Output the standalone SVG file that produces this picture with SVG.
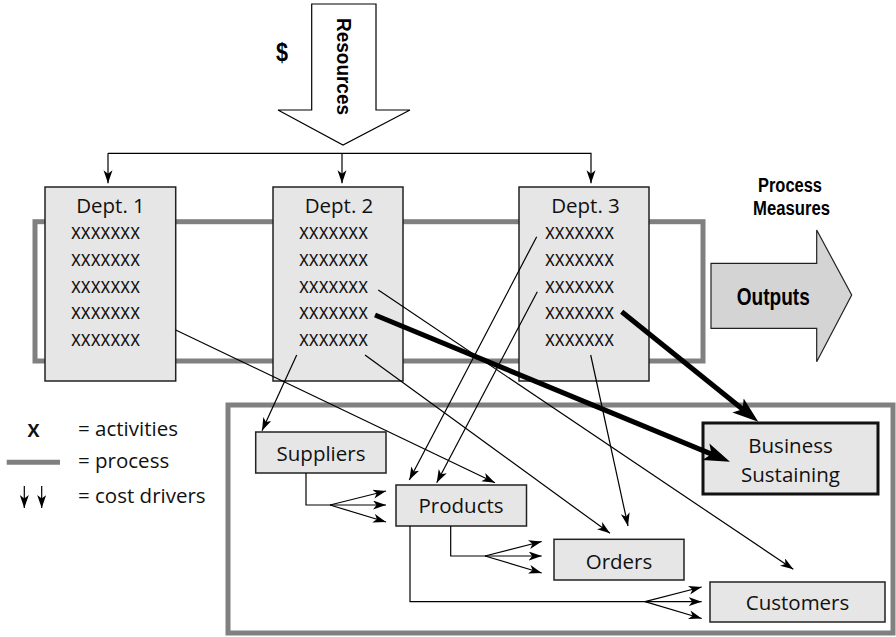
<svg xmlns="http://www.w3.org/2000/svg" width="896" height="637" viewBox="0 0 896 637">
<defs>
<style>
.box{fill:#e6e6e6;stroke:#222;stroke-width:1.5}
.proc{fill:none;stroke:#808080;stroke-width:5}
.t{font-family:"Open Sans","Noto Sans",sans-serif;font-size:20.5px;fill:#111}
.x{font-family:"Open Sans","Noto Sans",sans-serif;font-size:21px;fill:#111}
.b{font-family:"Liberation Sans",Arial,sans-serif;font-weight:bold;fill:#000}
.ln{fill:none;stroke:#000;stroke-width:1.2}
.thk{fill:none;stroke:#000;stroke-width:5}
</style>
<marker id="a" markerUnits="userSpaceOnUse" markerWidth="14" markerHeight="10" refX="13" refY="4.5" orient="auto">
<path d="M0,0 L13,4.5 L0,9 L3.5,4.5 z" fill="#000"/>
</marker>
<marker id="A" markerUnits="userSpaceOnUse" markerWidth="28" markerHeight="20" refX="10" refY="9" orient="auto">
<path d="M0,0 L26,9 L0,18 L6,9 z" fill="#000"/>
</marker>
</defs>
<rect width="896" height="637" fill="#fff"/>

<g id="process">
<rect class="proc" x="35" y="221.7" width="668" height="139.3"/>
</g>
<g id="scope">
<rect class="proc" x="228" y="405" width="665" height="228"/>
</g>

<g id="resources">
<polygon points="311.7,4 376,4 376,110 410,110 343,145 278,110 311.7,110" fill="#fff" stroke="#000" stroke-width="1.2"/>
<text class="b" font-size="20" text-anchor="middle" textLength="97" lengthAdjust="spacingAndGlyphs" transform="translate(344,66.5) rotate(90)" x="0" y="7">Resources</text>
<text class="b" font-size="25" text-anchor="middle" textLength="12" lengthAdjust="spacingAndGlyphs" x="282" y="61">$</text>
</g>

<g id="dept1">
<rect class="box" x="45" y="187" width="130.7" height="194"/>
<text class="t" x="110.5" y="212.7" text-anchor="middle">Dept. 1</text>
<text class="x" x="71" y="239.3" textLength="69" lengthAdjust="spacingAndGlyphs">xxxxxxx</text>
<text class="x" x="71" y="266" textLength="69" lengthAdjust="spacingAndGlyphs">xxxxxxx</text>
<text class="x" x="71" y="292.7" textLength="69" lengthAdjust="spacingAndGlyphs">xxxxxxx</text>
<text class="x" x="71" y="319.3" textLength="69" lengthAdjust="spacingAndGlyphs">xxxxxxx</text>
<text class="x" x="71" y="346" textLength="69" lengthAdjust="spacingAndGlyphs">xxxxxxx</text>
</g>
<g id="dept2">
<rect class="box" x="273" y="187" width="130" height="194"/>
<text class="t" x="339" y="212.7" text-anchor="middle">Dept. 2</text>
<text class="x" x="299" y="239.3" textLength="69" lengthAdjust="spacingAndGlyphs">xxxxxxx</text>
<text class="x" x="299" y="266" textLength="69" lengthAdjust="spacingAndGlyphs">xxxxxxx</text>
<text class="x" x="299" y="292.7" textLength="69" lengthAdjust="spacingAndGlyphs">xxxxxxx</text>
<text class="x" x="299" y="319.3" textLength="69" lengthAdjust="spacingAndGlyphs">xxxxxxx</text>
<text class="x" x="299" y="346" textLength="69" lengthAdjust="spacingAndGlyphs">xxxxxxx</text>
</g>
<g id="dept3">
<rect class="box" x="519" y="187" width="130" height="194"/>
<text class="t" x="585.5" y="212.7" text-anchor="middle">Dept. 3</text>
<text class="x" x="545" y="239.3" textLength="69" lengthAdjust="spacingAndGlyphs">xxxxxxx</text>
<text class="x" x="545" y="266" textLength="69" lengthAdjust="spacingAndGlyphs">xxxxxxx</text>
<text class="x" x="545" y="292.7" textLength="69" lengthAdjust="spacingAndGlyphs">xxxxxxx</text>
<text class="x" x="545" y="319.3" textLength="69" lengthAdjust="spacingAndGlyphs">xxxxxxx</text>
<text class="x" x="545" y="346" textLength="69" lengthAdjust="spacingAndGlyphs">xxxxxxx</text>
</g>

<g id="outputs">
<polygon points="711,263.3 816.7,263.3 816.7,230 851.7,295 816.7,361.7 816.7,328.3 711,328.3" fill="#d4d4d4" stroke="#222" stroke-width="1.2"/>
<text class="b" font-size="24" text-anchor="middle" x="773.3" y="305" textLength="73" lengthAdjust="spacingAndGlyphs">Outputs</text>
</g>
<g id="measures">
<text class="b" font-size="19.5" text-anchor="middle" x="790" y="191.7" textLength="64" lengthAdjust="spacingAndGlyphs">Process</text>
<text class="b" font-size="19.5" text-anchor="middle" x="791.5" y="215" textLength="77" lengthAdjust="spacingAndGlyphs">Measures</text>
</g>

<g id="suppliers">
<rect class="box" x="255.7" y="432" width="130.3" height="41"/>
<text class="t" x="321" y="460.7" text-anchor="middle">Suppliers</text>
</g>
<g id="products">
<rect class="box" x="396" y="485" width="130.5" height="41"/>
<text class="t" x="461" y="513.3" text-anchor="middle">Products</text>
</g>
<g id="orders">
<rect class="box" x="554" y="539.3" width="130" height="40.7"/>
<text class="t" x="619" y="569.3" text-anchor="middle">Orders</text>
</g>
<g id="customers">
<rect class="box" x="710" y="582" width="175" height="40"/>
<text class="t" x="797.5" y="610" text-anchor="middle">Customers</text>
</g>
<g id="business">
<rect x="703" y="423" width="175" height="71" fill="#e6e6e6" stroke="#111" stroke-width="3"/>
<text class="t" x="790.5" y="453.3" text-anchor="middle">Business</text>
<text class="t" x="790.5" y="481.7" text-anchor="middle">Sustaining</text>
</g>

<g id="legend">
<text x="33.5" y="437" text-anchor="middle" font-family="Open Sans, sans-serif" font-weight="bold" font-size="18" fill="#111">X</text>
<text class="t" x="78" y="436">= activities</text>
<line x1="6.7" y1="462.3" x2="60" y2="462.3" stroke="#808080" stroke-width="5"/>
<text class="t" x="78" y="468">= process</text>
<line class="ln" x1="24.3" y1="486" x2="24.3" y2="508" marker-end="url(#a)"/>
<line class="ln" x1="41.7" y1="486" x2="41.7" y2="508" marker-end="url(#a)"/>
<text class="t" x="78" y="503.3">= cost drivers</text>
</g>

<g id="connectors">
<polyline class="ln" points="108,153.3 591,153.3 591,183.3" marker-end="url(#a)"/>
<line class="ln" x1="108" y1="153.3" x2="108" y2="183.3" marker-end="url(#a)"/>
<line class="ln" x1="342" y1="153.3" x2="342" y2="183.3" marker-end="url(#a)"/>

<line class="ln" x1="175.7" y1="330" x2="495" y2="482.7" marker-end="url(#a)"/>
<line class="ln" x1="296.7" y1="355" x2="262" y2="430.7" marker-end="url(#a)"/>
<line class="ln" x1="365" y1="355" x2="610" y2="533.3" marker-end="url(#a)"/>
<line class="ln" x1="378.3" y1="290" x2="793.3" y2="569.3" marker-end="url(#a)"/>
<line class="ln" x1="536.7" y1="236.7" x2="409.3" y2="480" marker-end="url(#a)"/>
<line class="ln" x1="537.3" y1="291.7" x2="436.7" y2="482.7" marker-end="url(#a)"/>
<line class="ln" x1="590.7" y1="355" x2="628" y2="526" marker-end="url(#a)"/>

<line class="thk" x1="375" y1="315" x2="715.2" y2="455.6" marker-end="url(#A)"/>
<line class="thk" x1="621.7" y1="311.7" x2="745.8" y2="411.7" marker-end="url(#A)"/>

<polyline class="ln" points="306,473 306,505 330,505"/>
<line class="ln" x1="330" y1="505" x2="386" y2="491" marker-end="url(#a)"/>
<line class="ln" x1="330" y1="505" x2="386" y2="505" marker-end="url(#a)"/>
<line class="ln" x1="330" y1="505" x2="386" y2="522" marker-end="url(#a)"/>

<polyline class="ln" points="450.7,526 450.7,556 485,556"/>
<line class="ln" x1="485" y1="556" x2="541.7" y2="541.5" marker-end="url(#a)"/>
<line class="ln" x1="485" y1="556" x2="541.7" y2="556" marker-end="url(#a)"/>
<line class="ln" x1="485" y1="556" x2="541.7" y2="573" marker-end="url(#a)"/>

<polyline class="ln" points="410,526 410,601.7 645,601.7"/>
<line class="ln" x1="645" y1="601.7" x2="701.7" y2="587" marker-end="url(#a)"/>
<line class="ln" x1="645" y1="601.7" x2="701.7" y2="601.7" marker-end="url(#a)"/>
<line class="ln" x1="645" y1="601.7" x2="701.7" y2="618.5" marker-end="url(#a)"/>
</g>
</svg>
